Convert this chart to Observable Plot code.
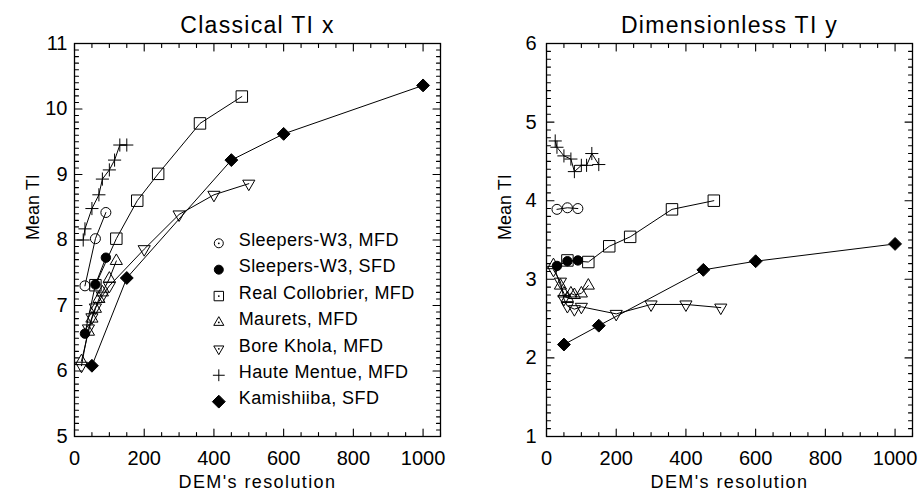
<!DOCTYPE html>
<html><head><meta charset="utf-8">
<script src="https://cdn.jsdelivr.net/npm/d3@7"></script>
<script src="https://cdn.jsdelivr.net/npm/@observablehq/plot@0.6"></script>
<style>
html,body{margin:0;padding:0;background:#fff;}
#wrap{display:flex;width:919px;height:492px;overflow:hidden;}
#wrap svg{flex:none;}
</style></head><body><div id="wrap"></div>
<script>
// ---- data ----
const resolutionSleepers = [30, 60, 90];
const classicalSleepersMFD = [7.30, 8.02, 8.42];
const dimlessSleepersMFD = [3.89, 3.91, 3.90];
const classicalSleepersSFD = [6.57, 7.32, 7.73];
const dimlessSleepersSFD = [3.17, 3.23, 3.24];
const resolutionCollobrier = [60, 120, 180, 240, 360, 480];
const classicalCollobrier = [7.31, 8.02, 8.60, 9.01, 9.78, 10.19];
const dimlessCollobrier = [3.24, 3.22, 3.42, 3.54, 3.89, 4.00];
const resolutionMaurets = [20, 40, 50, 60, 70, 80, 100, 120];
const classicalMaurets = [6.15, 6.60, 6.80, 6.95, 7.10, 7.20, 7.41, 7.68];
const dimlessMaurets = [3.18, 2.92, 2.82, 2.76, 2.82, 2.80, 2.82, 2.92];
const resolutionBoreKhola = [20, 40, 50, 60, 80, 100, 200, 300, 400, 500];
const classicalBoreKhola = [6.08, 6.65, 6.82, 6.97, 7.15, 7.30, 7.86, 8.39, 8.69, 8.86];
const dimlessBoreKhola = [3.12, 2.97, 2.75, 2.66, 2.62, 2.65, 2.56, 2.68, 2.68, 2.64];
const resolutionHaute = [25, 30, 50, 70, 80, 100, 115, 130, 150];
const classicalHaute = [8.00, 8.17, 8.48, 8.69, 8.93, 9.07, 9.22, 9.45, 9.45];
const dimlessHaute = [4.76, 4.68, 4.57, 4.53, 4.37, 4.45, 4.45, 4.60, 4.46];
const resolutionKamishiiba = [50, 150, 450, 600, 1000];
const classicalKamishiiba = [6.08, 7.42, 9.22, 9.62, 10.36];
const dimlessKamishiiba = [2.17, 2.41, 3.12, 3.23, 3.45];

const seriesNames = ["Sleepers-W3, MFD", "Sleepers-W3, SFD", "Real Collobrier, MFD",
  "Maurets, MFD", "Bore Khola, MFD", "Haute Mentue, MFD", "Kamishiiba, SFD"];
const panelTitles = ["Classical TI x", "Dimensionless TI y"];
const xLabel = "DEM's resolution";
const yLabel = "Mean TI";
const xTicks = [0, 200, 400, 600, 800, 1000];
const yTicksClassical = [5, 6, 7, 8, 9, 10, 11];
const yTicksDimless = [1, 2, 3, 4, 5, 6];

// ---- table built from the arrays ----
const seriesData = [
  [resolutionSleepers, classicalSleepersMFD, dimlessSleepersMFD],
  [resolutionSleepers, classicalSleepersSFD, dimlessSleepersSFD],
  [resolutionCollobrier, classicalCollobrier, dimlessCollobrier],
  [resolutionMaurets, classicalMaurets, dimlessMaurets],
  [resolutionBoreKhola, classicalBoreKhola, dimlessBoreKhola],
  [resolutionHaute, classicalHaute, dimlessHaute],
  [resolutionKamishiiba, classicalKamishiiba, dimlessKamishiiba]
];
const rows = seriesData.flatMap(([xs, cl, dl], si) =>
  xs.map((x, i) => ({series: seriesNames[si], si, x, classical: cl[i], dimless: dl[i]})));

// symbol styling per series (style only)
const symbolStyle = [
  {symbol: "circle", fill: "none", r: 5, lr: 4.5, dotc: true},
  {symbol: "circle", fill: "black", r: 4.7, lr: 4.5},
  {symbol: "square2", fill: "none", r: 7.3, lr: 6, dotc: true},
  {symbol: "triangle2", fill: "none", r: 5.8, lr: 4.8, dotc: true},
  {symbol: "triangle2", fill: "none", r: 5.8, lr: 4.8, rotate: 180, dotc: true},
  {symbol: "plus", fill: "none", r: 4.3, lr: 3.9},
  {symbol: "diamond2", fill: "black", r: 5.8, lr: 5.8}
];

const FONT = "Liberation Sans, Arial, sans-serif";

function tickMarks(xMajor, xMinor, yMajor, yMinor) {
  const L = 7.5, l = 4;
  const base = {stroke: "black", strokeWidth: 1.1, r: 0, anchor: "start"};
  const out = [];
  for (const [fa, rot] of [["bottom", 0], ["top", 180]]) {
    out.push(Plot.vector(xMajor, {...base, x: d => d, frameAnchor: fa, rotate: rot, length: L}));
    out.push(Plot.vector(xMinor, {...base, x: d => d, frameAnchor: fa, rotate: rot, length: l}));
  }
  for (const [fa, rot] of [["left", 90], ["right", -90]]) {
    out.push(Plot.vector(yMajor, {...base, y: d => d, frameAnchor: fa, rotate: rot, length: L}));
    out.push(Plot.vector(yMinor, {...base, y: d => d, frameAnchor: fa, rotate: rot, length: l}));
  }
  return out;
}

function panel({title, key, yDomain, yTicks, width, marginLeft, marginRight, legend}) {
  const xMinor = d3.range(0, 1051, 50).filter(d => d % 200 !== 0);
  const yMinor = d3.range(Math.round(yDomain[0] * 10), Math.round(yDomain[1] * 10) + 1)
    .filter(d => d % 10 !== 0).map(d => d / 10);
  const marks = [
    Plot.line(rows, {x: "x", y: key, z: "series", stroke: "black", strokeWidth: 1}),
    ...symbolStyle.map((s, si) => Plot.dot(rows.filter(d => d.si === si), {
      x: "x", y: key, symbol: s.symbol, r: s.r, fill: s.fill,
      stroke: "black", strokeWidth: 1, rotate: s.rotate || 0
    })),
    Plot.frame({stroke: "black", strokeWidth: 1.3}),
    ...tickMarks(xTicks, xMinor, yTicks, yMinor),
    Plot.axisX({ticks: xTicks, tickSize: 0, tickPadding: 14, tickFormat: d => String(d),
      fontSize: 20, label: null}),
    Plot.axisY({ticks: yTicks, tickSize: 0, tickPadding: marginLeft > 80 ? 10 : 7,
      tickFormat: d => String(d), fontSize: 20, label: null}),
    Plot.text([title], {frameAnchor: "top", dy: -11, lineAnchor: "bottom", fontSize: 23}),
    Plot.text([xLabel], {frameAnchor: "bottom", dy: 51, lineAnchor: "bottom", fontSize: 18}),
    Plot.text([yLabel], {frameAnchor: "left", dx: -41, rotate: -90, lineAnchor: "middle",
      fontSize: 18})
  ];
  if (legend) {
    const leg = seriesNames.map((name, i) => ({name, i}));
    const lx = 414, ltx = 471, ly0 = 7.95, lstep = 0.403;
    symbolStyle.forEach((s, i) => {
      marks.push(Plot.dot([leg[i]], {x: () => lx, y: d => ly0 - lstep * d.i,
        symbol: s.symbol, r: s.lr, fill: s.fill, stroke: "black", strokeWidth: 1,
        rotate: s.rotate || 0}));
      if (s.dotc) marks.push(Plot.dot([leg[i]], {x: () => lx, y: d => ly0 - lstep * d.i,
        r: 0.9, fill: "black"}));
    });
    marks.push(Plot.text(leg, {x: () => ltx, y: d => ly0 - lstep * d.i, text: "name",
      textAnchor: "start", lineAnchor: "middle", dy: -3, fontSize: 18}));
  }
  const svg = Plot.plot({
    width, height: 492,
    marginLeft, marginRight, marginTop: 43, marginBottom: 56,
    style: {fontFamily: FONT, fontSize: "18px", background: "white", color: "black"},
    x: {domain: [0, 1050]},
    y: {domain: yDomain},
    marks
  });
  const s = d3.select(svg);
  s.selectAll("text").attr("fill", "black").each(function () {
    const t = this.textContent;
    if (panelTitles.includes(t)) this.style.letterSpacing = "1.3px";
    else if (t === xLabel) this.style.letterSpacing = "1.4px";
    else if (seriesNames.includes(t)) this.style.letterSpacing = "0.45px";
  });
  return svg;
}

const wrap = document.getElementById("wrap");
wrap.appendChild(panel({title: panelTitles[0], key: "classical", yDomain: [5, 11],
  yTicks: yTicksClassical, width: 460, marginLeft: 74, marginRight: 20, legend: true}));
wrap.appendChild(panel({title: panelTitles[1], key: "dimless", yDomain: [1, 6],
  yTicks: yTicksDimless, width: 459, marginLeft: 86, marginRight: 7, legend: false}));
</script>
</body></html>
